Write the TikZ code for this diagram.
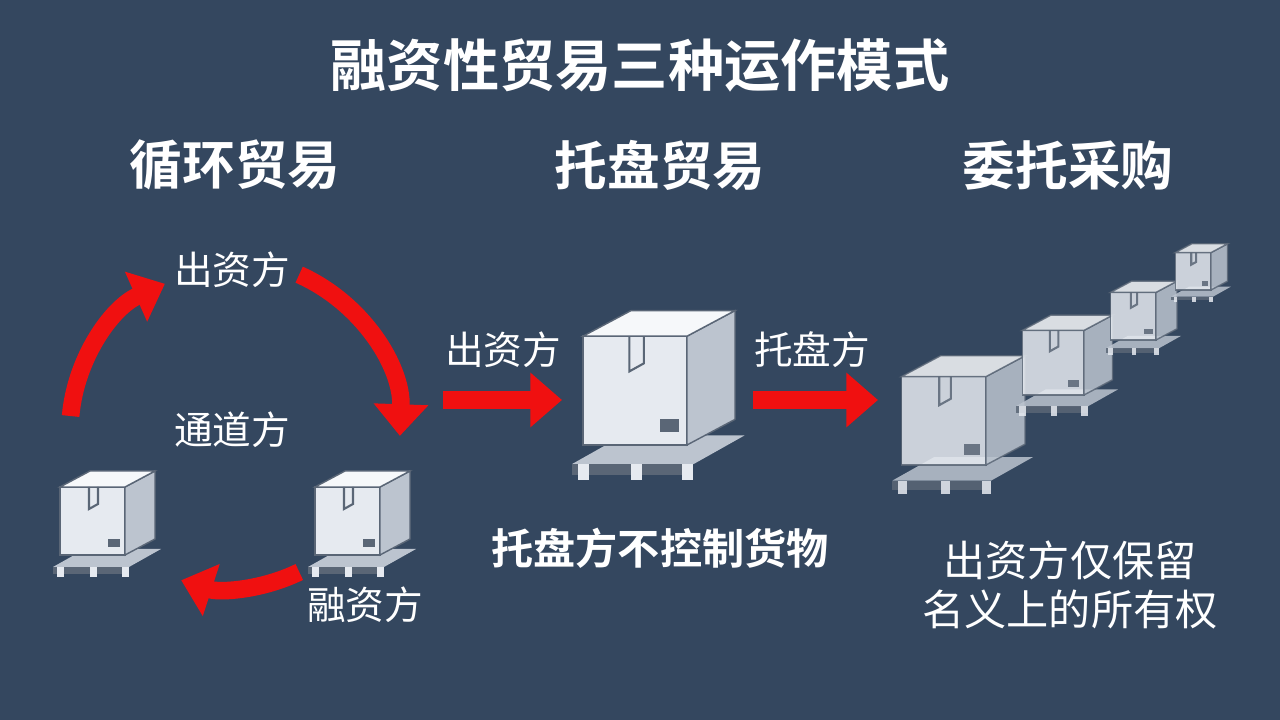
\documentclass[tikz,border=0pt]{standalone}
\usepackage{fontspec}
\newfontfamily\cjk{Noto Sans CJK SC}
\newfontfamily\cjkb{Noto Sans CJK SC Bold}
\usetikzlibrary{arrows.meta,positioning}
\definecolor{bgblue}{HTML}{34475F}
\definecolor{boxfront}{HTML}{E6EAF0}
\definecolor{boxtop}{HTML}{F6F8FA}
\definecolor{boxside}{HTML}{BCC4CF}
\definecolor{boxline}{HTML}{5A6676}
\definecolor{arrred}{HTML}{F01010}
\tikzset{
  title/.style={text=white, font=\cjkb\fontsize{16}{18}\selectfont},
  header/.style={text=white, font=\cjkb\fontsize{15}{18}\selectfont},
  label/.style={text=white, font=\cjk\fontsize{11}{13}\selectfont},
  note/.style={text=white, font=\cjkb\fontsize{12}{14}\selectfont},
  redarrow/.style={arrred, line width=5pt, -{Triangle[length=9pt,width=15pt]}},
  crate/.pic={
    % pallet
    \fill[boxside] (-0.52,-0.12) -- (0.24,-0.12) -- (0.56,0.06) -- (-0.2,0.06) -- cycle;
    \fill[boxline] (-0.52,-0.19) rectangle (0.24,-0.12);
    \foreach \px in {-0.48,-0.15,0.17} {
      \fill[boxfront] (\px,-0.22) rectangle ++(0.07,0.1);
    }
    % box faces
    \draw[boxline, line width=0.4pt, fill=boxfront] (-0.45,0) -- (0.2,0) -- (0.2,0.68) -- (-0.45,0.68) -- cycle;
    \draw[boxline, line width=0.4pt, fill=boxside] (0.2,0) -- (0.5,0.16) -- (0.5,0.84) -- (0.2,0.68) -- cycle;
    \draw[boxline, line width=0.4pt, fill=boxtop] (-0.45,0.68) -- (0.2,0.68) -- (0.5,0.84) -- (-0.15,0.84) -- cycle;
    % tape and label
    \draw[boxline, line width=0.6pt] (-0.16,0.68) -- (-0.16,0.46) -- (-0.07,0.51) -- (-0.07,0.68);
    \fill[boxline] (0.03,0.08) rectangle (0.15,0.16);
  }
}
\begin{document}
\begin{tikzpicture}
\fill[bgblue] (0,0) rectangle (12.8,7.2);
\useasboundingbox (0,0) rectangle (12.8,7.2);

% title and headers
\node[title] (ttl) at (6.4,6.55) {融资性贸易三种运作模式};
\node[header] (hcyc) at (2.35,5.55) {循环贸易};
\node[header] (hpal) at (6.6,5.55) {托盘贸易};
\node[header] (hent) at (10.68,5.55) {委托采购};

% cycle trade
\coordinate (ctr) at (2.3,2.9);
\node[label] (fund) at (2.32,4.5) {出资方};
\node[label] (chan) at (2.32,2.9) {通道方};
\node[label] (fin) at (3.65,1.15) {融资方};
\pic[scale=1.0] at (1.05,1.65) {crate};
\pic[scale=1.0] at (3.6,1.65) {crate};
\draw[redarrow] ([shift={(175:1.6)}]ctr) arc (175:114:1.6);
\draw[redarrow] ([shift={(66:1.7)}]ctr) arc (66:-2:1.7);
\draw[redarrow] ([shift={(-64:1.58)}]ctr) arc (-64:-108:1.58);

% pallet trade
\node[label] (pfund) at (5.03,3.7) {出资方};
\node[label] (ppal) at (8.12,3.7) {托盘方};
\coordinate (pa1) at (4.43,3.2);
\coordinate (pa2) at (5.62,3.2);
\coordinate (pb1) at (7.53,3.2);
\coordinate (pb2) at (8.78,3.2);
\draw[redarrow] (pa1) -- (pa2);
\draw[redarrow] (pb1) -- (pb2);
\pic[scale=1.6] at (6.55,2.75) {crate};
\node[note] (pnote) at (6.6,1.72) {托盘方不控制货物};

% entrusted purchase
\begin{scope}[opacity=0.85]
\pic[scale=1.3] at (9.6,2.55) {crate};
\pic[scale=0.95] at (10.65,3.25) {crate};
\pic[scale=0.7] at (11.42,3.8) {crate};
\pic[scale=0.55] at (12.0,4.3) {crate};
\end{scope}
\node[label, font=\cjk\fontsize{12}{14}\selectfont] (enote1) at (10.7,1.6) {出资方仅保留};
\node[label, font=\cjk\fontsize{12}{14}\selectfont] (enote2) at (10.7,1.1) {名义上的所有权};
\end{tikzpicture}
\end{document}
